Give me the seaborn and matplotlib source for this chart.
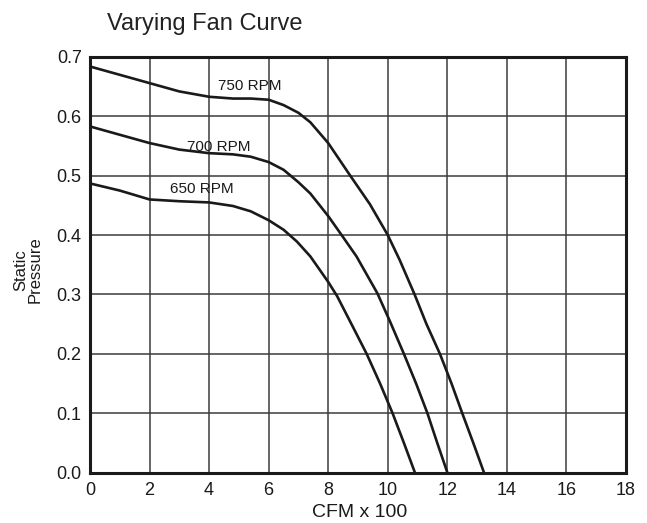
import numpy as np
import pandas as pd
import matplotlib
matplotlib.use('Agg')
import matplotlib.pyplot as plt
import seaborn as sns

# ── Curve data (CFM x 100 vs static pressure) ────────────────────────────────
cfm_750 = [0, 1, 2, 3, 4, 4.8, 5.4, 6, 6.5, 7, 7.4, 8, 8.7, 9.4, 10, 10.4,
           10.9, 11.3, 11.75, 12.14, 12.5, 12.87, 13.23]
sp_750 = [0.684, 0.670, 0.656, 0.642, 0.633, 0.630, 0.630, 0.628, 0.619, 0.606,
          0.590, 0.555, 0.503, 0.452, 0.400, 0.358, 0.300, 0.250, 0.200, 0.150,
          0.100, 0.050, 0.0]

cfm_700 = [0, 1, 2, 3, 4, 4.8, 5.4, 6, 6.5, 7, 7.4, 8, 8.45, 8.95, 9.65, 10.07,
           10.54, 10.95, 11.33, 11.66, 12.0]
sp_700 = [0.583, 0.569, 0.555, 0.544, 0.538, 0.536, 0.532, 0.523, 0.510, 0.489,
          0.470, 0.432, 0.400, 0.364, 0.302, 0.255, 0.200, 0.150, 0.100, 0.050, 0.0]

cfm_650 = [0, 1, 2, 3, 4, 4.8, 5.4, 6, 6.5, 6.95, 7.4, 8, 8.3, 8.75, 9.29,
           9.74, 10.16, 10.54, 10.91]
sp_650 = [0.487, 0.475, 0.460, 0.457, 0.455, 0.449, 0.440, 0.425, 0.409, 0.389,
          0.364, 0.321, 0.297, 0.253, 0.200, 0.150, 0.100, 0.050, 0.0]

rpm_labels = ["750 RPM", "700 RPM", "650 RPM"]
x_ticks = [0, 2, 4, 6, 8, 10, 12, 14, 16, 18]
y_ticks = [0.0, 0.1, 0.2, 0.3, 0.4, 0.5, 0.6, 0.7]

df = pd.concat([
    pd.DataFrame({"cfm": cfm_750, "sp": sp_750, "rpm": rpm_labels[0]}),
    pd.DataFrame({"cfm": cfm_700, "sp": sp_700, "rpm": rpm_labels[1]}),
    pd.DataFrame({"cfm": cfm_650, "sp": sp_650, "rpm": rpm_labels[2]}),
], ignore_index=True)

sns.set_theme(style="white")
plt.rcParams['font.family'] = ['Liberation Sans', 'DejaVu Sans']

fig = plt.figure(figsize=(6.47, 5.23), dpi=100)
fig.patch.set_facecolor("white")
ax = fig.add_axes([90 / 647, 1 - 472.5 / 523, 536 / 647, 415.5 / 523])

sns.lineplot(data=df, x="cfm", y="sp", hue="rpm", units="rpm", estimator=None,
             sort=False, palette=["#1a1a1a"] * 3, linewidth=1.9,
             legend=False, ax=ax, zorder=3)
for ln in ax.get_lines():
    ln.set_solid_joinstyle("round")

ax.set_xlim(0, 18)
ax.set_ylim(0, 0.7)
ax.set_xticks(x_ticks)
ax.set_yticks(y_ticks)
ax.set_xticklabels([str(t) for t in x_ticks])
ax.set_yticklabels([f"{t:.1f}" for t in y_ticks])
ax.tick_params(axis='both', length=0, labelsize=13, colors="#1a1a1a")
ax.tick_params(axis='x', pad=7)
ax.tick_params(axis='y', pad=6)
ax.grid(True, color="#3c3c3c", linewidth=1.1)
ax.set_axisbelow(True)
for s in ax.spines.values():
    s.set_visible(True)
    s.set_color("#1a1a1a")
    s.set_linewidth(2.2)
ax.set_xlabel("")
ax.set_ylabel("")

# curve labels
ax.text(4.30, 0.651, rpm_labels[0], fontsize=11, va="center", ha="left", color="#1a1a1a")
ax.text(3.26, 0.548, rpm_labels[1], fontsize=11, va="center", ha="left", color="#1a1a1a")
ax.text(2.69, 0.478, rpm_labels[2], fontsize=11, va="center", ha="left", color="#1a1a1a")

fig.text(107 / 647, 1 - 30 / 523, "Varying Fan Curve", fontsize=17,
         ha="left", va="baseline", color="#222222")
fig.text(360 / 647, 1 - 517 / 523, "CFM x 100", fontsize=14,
         ha="center", va="baseline", color="#1a1a1a")
fig.text(28 / 647, 1 - 270 / 523, "Static\nPressure", fontsize=12,
         rotation=90, ha="center", va="center", linespacing=0.9,
         multialignment="center", color="#1a1a1a")

plt.savefig("out.png", dpi=100, facecolor="white")
plt.close()
